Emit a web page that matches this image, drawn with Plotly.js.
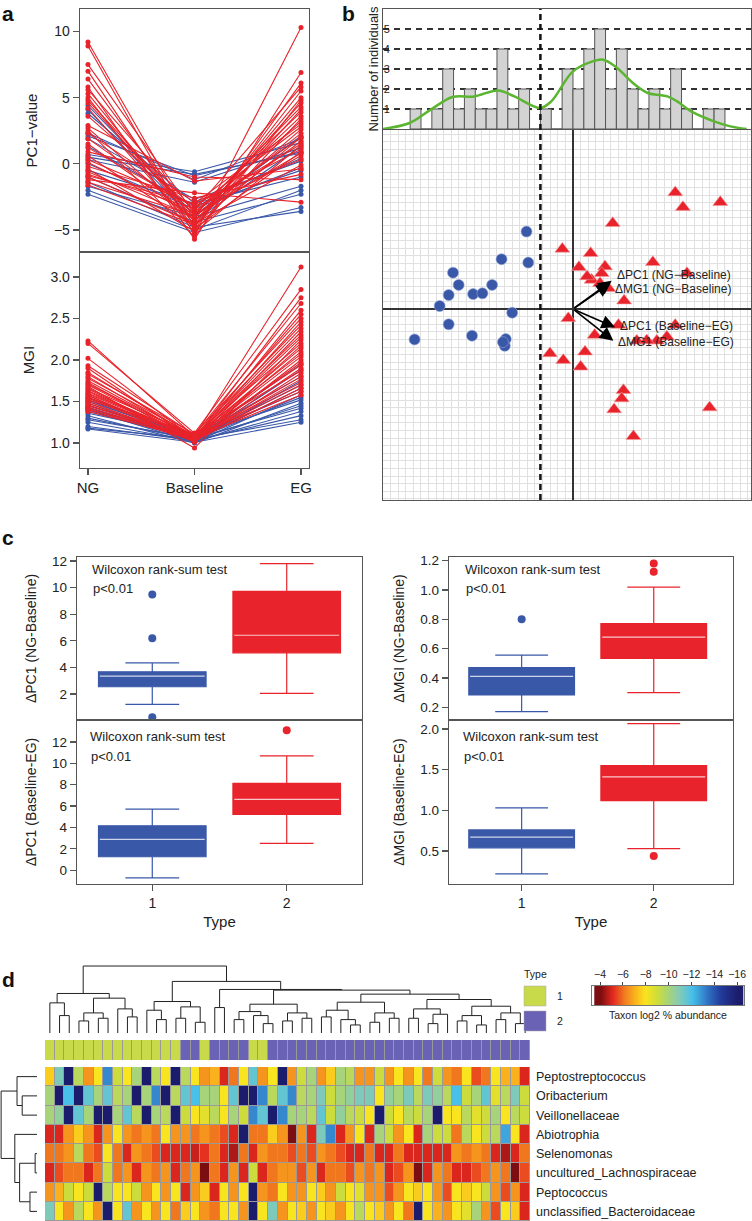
<!DOCTYPE html>
<html>
<head>
<meta charset="utf-8">
<script src="https://cdn.plot.ly/plotly-3.0.1.min.js"></script>
<style>
html,body{margin:0;padding:0;background:#fff;}
#plotDiv{width:752px;height:1221px;}
</style>
</head>
<body>
<div id="plotDiv"></div>
<script>
const W = 752, H = 1221;
// pixel -> paper helpers
function px(x){ return x / W; }
function py(y){ return 1 - y / H; }
function hdom(a, b){ return [px(a), px(b)]; }
function vdom(top, bottom){ return [py(bottom), py(top)]; }

const RED = '#e8232b', BLUE = '#3a58a8';

// ---------- panel a : trajectories of every individual ----------
const stageNames = ['NG', 'Baseline', 'EG'];
const indivType = [1,1,1,1,1,1,1,1,1,1,1,1,1,1,1,1,1,
                   2,2,2,2,2,2,2,2,2,2,2,2,2,2,2,2,2,2,2,2,2,2,2,2,2,2,2,2,2,2,2,2,2];
const ngPC1 = [4.4,4.1,3.8,2.3,2.1,1.9,1.3,0.7,0.5,0.3,0.0,-0.5,-1.0,-1.4,-1.7,-2.0,-2.3,
  9.2,8.9,7.5,7.0,6.4,5.8,5.6,5.3,5.0,4.8,4.6,4.2,3.6,2.9,2.7,2.5,2.3,1.9,1.5,1.2,0.9,0.6,0.3,0.1,-0.2,-0.4,-0.6,-0.8,-1.0,-1.2,-1.4,-1.6,-0.9];
const basePC1 = [-3.9,-4.3,-3.0,-1.2,-0.9,-2.7,-3.2,-0.6,-0.8,-1.4,-3.4,-3.0,-4.4,-4.8,-4.0,-5.0,-5.2,
  -4.8,-5.4,-3.8,-5.0,-4.4,-5.7,-3.6,-4.6,-5.2,-3.9,-4.1,-4.9,-3.5,-1.3,-4.3,-5.5,-2.9,-3.7,-4.2,-3.3,-1.0,-4.7,-3.1,-3.8,-2.6,-5.1,-4.0,-3.4,-4.5,-2.2,-3.9,-4.6,-3.0];
const egPC1 = [2.1,1.3,0.4,1.9,0.9,0.2,-0.5,1.6,0.8,1.2,-0.3,-1.0,-2.3,-3.6,-1.7,-2.0,-3.3,
  5.5,10.3,3.2,6.1,4.6,6.9,2.0,5.0,1.4,4.3,3.6,0.9,5.8,-0.4,2.6,4.8,0.3,3.9,1.7,2.8,-1.2,4.1,1.1,0.6,-0.8,3.4,2.3,1.5,-0.1,-2.9,0.8,2.0,3.0];
const ngMGI = [1.55,1.52,1.50,1.48,1.45,1.43,1.42,1.40,1.38,1.36,1.33,1.30,1.28,1.25,1.20,1.18,1.17,
  2.23,2.20,2.02,1.93,1.90,1.85,1.83,1.80,1.78,1.75,1.73,1.71,1.70,1.68,1.66,1.65,1.63,1.62,1.60,1.59,1.58,1.57,1.55,1.54,1.52,1.50,1.48,1.46,1.45,1.43,1.41,1.40,1.38];
const baseMGI = [1.05,1.04,1.08,1.02,1.06,1.03,1.07,1.01,1.05,1.09,1.00,1.04,1.06,1.02,1.03,1.05,1.01,
  1.08,1.12,1.05,1.10,1.03,1.07,1.11,1.04,1.09,1.06,1.02,1.08,1.05,0.94,1.10,1.03,1.07,1.04,1.09,1.06,1.01,1.05,1.08,1.03,1.11,1.02,1.06,1.04,1.07,1.05,1.03,1.09,1.06];
const egMGI = [1.95,1.88,1.80,1.75,1.70,1.66,1.62,1.58,1.55,1.52,1.48,1.45,1.42,1.38,1.33,1.28,1.25,
  3.12,2.85,2.75,2.68,2.60,2.55,2.50,2.46,2.42,2.38,2.34,2.30,2.27,2.24,2.20,2.17,2.14,2.10,2.07,2.04,2.00,1.97,1.94,1.90,1.87,1.84,1.80,1.77,1.73,1.70,1.66,1.62,1.58];

// ---------- panel b : histogram + biplot ----------
const histFirstEdge = -15, histBinWidth = 1;
const histCounts = [1,0,1,3,1,2,1,1,4,1,2,0,1,0,3,2,4,5,2,4,2,1,2,1,3,1,0,1,1];
const densX = [-17.5,-15.05,-13.1,-11.1,-9.1,-6.9,-5.4,-3.05,-2.0,0,1.8,2.7,3.9,5.7,6.9,8.7,9.6,10.9,13.0,14.5,16.0];
const densY = [0,0.3,0.97,1.6,1.63,1.93,1.63,1.05,1.38,2.88,3.38,3.47,3.13,2.22,1.8,1.63,1.38,0.88,0.38,0.13,0];
const splitX = -3;
const blueX = [-4.28,-6.58,-4.12,-11.05,-10.53,-11.45,-9.2,-8.34,-7.45,-12.28,-5.6,-11.45,-14.59,-9.3,-6.19,-6.28,-6.45];
const blueY = [7.14,4.59,4.28,3.35,2.22,1.29,1.38,1.45,2.22,0.28,-0.34,-1.41,-2.8,-2.46,-2.77,-3.39,-3.05];
const redX = [9.42,10.13,13.57,3.66,-0.98,1.63,7.36,0.55,2.95,2.65,10.5,1.72,2.49,3.26,4.71,-0.43,4.19,9.42,2.0,5.88,7.73,8.65,-2.12,-0.89,1.11,0.71,4.65,4.49,3.79,12.59,5.57,6.8,1.3];
const redY = [10.74,9.39,9.85,7.91,5.54,5.14,4.31,3.85,3.91,3.3,3.3,2.68,2.37,1.91,0.77,-0.86,-1.48,-1.48,-2.4,-2.93,-2.93,-2.56,-4.09,-4.71,-3.94,-5.33,-7.48,-8.25,-9.26,-9.08,-11.73,-2.9,3.0];
const arrowNames = ['ΔPC1 (NG−Baseline)','ΔMG1 (NG−Baseline)','ΔPC1 (Baseline−EG)','ΔMG1 (Baseline−EG)'];
const arrowX = [3.57,3.42,3.88,3.72];
const arrowY = [2.61,2.37,-1.69,-2.93];

// ---------- panel c : box plots, [lower whisker, Q1, median, Q3, upper whisker] ----------
const pcNgBlue = [1.23,2.55,3.35,3.67,4.35], pcNgRed = [2.05,5.1,6.42,9.72,11.8];
const pcNgBlueOut = [9.49,6.2,0.25], pcNgRedOut = [];
const pcEgBlue = [-0.72,1.25,2.88,4.15,5.72], pcEgRed = [2.5,5.22,6.62,8.12,10.7];
const pcEgBlueOut = [], pcEgRedOut = [13.1];
const mgNgBlue = [0.17,0.284,0.41,0.47,0.555], mgNgRed = [0.30,0.534,0.678,0.77,1.02];
const mgNgBlueOut = [0.8], mgNgRedOut = [1.18,1.125];
const mgEgBlue = [0.22,0.54,0.67,0.76,1.03], mgEgRed = [0.53,1.12,1.41,1.55,2.065];
const mgEgBlueOut = [], mgEgRedOut = [0.44];

// ---------- panel d : heatmap ----------
const taxa = ['Peptostreptococcus','Oribacterium','Veillonellaceae','Abiotrophia','Selenomonas',
              'uncultured_Lachnospiraceae','Peptococcus','unclassified_Bacteroidaceae'];
const colType = [1,1,1,1,1,1,1,1,1,1,1,1,1,1,2,2,1,2,2,2,2,1,1,
                 2,2,2,2,2,2,2,2,2,2,2,2,2,2,2,2,2,2,2,2,2,2,2,2,2,2,2];
const heatRows = [
  [-7.5,-11,-16,-9.5,-6.5,-8,-13,-9,-8,-10,-16,-9.5,-8,-16,-9.5,-8,-6.5,-7,-5,-6,-8,-11.5,-6.5,-8,-16,-6.5,-9,-10,-6.5,-7.5,-10,-9.5,-6.5,-6.5,-9,-6.5,-8,-6.5,-8,-6,-9,-6.5,-6,-8,-5.5,-6,-8,-7,-7,-5],
  [-10,-16,-12,-16,-11.5,-10,-11.5,-9.5,-10,-16,-10,-13,-16,-9.5,-11.5,-12,-10,-10,-8,-11.5,-16,-16,-13,-9.5,-11.5,-13,-9.5,-10,-11,-9,-10,-10.5,-11,-11,-8,-10.5,-10,-11,-9.5,-11,-10.5,-9.5,-12,-9,-10,-11.5,-8.5,-9.5,-11,-9],
  [-10,-10.5,-16,-11.5,-10,-16,-16,-10,-11.5,-9.5,-16,-10,-9.5,-16,-9,-8,-8.5,-9.5,-8,-10,-9,-13,-11.5,-16,-13,-10,-10,-9.5,-11.5,-9,-10.5,-9.5,-9,-8,-16,-9,-8,-9.5,-9,-10,-16,-8,-8,-9.5,-8.5,-9,-10,-8,-9.5,-9],
  [-5,-5,-6.5,-7.5,-6.5,-5,-6.5,-8,-6.5,-6,-6.5,-6,-8,-6.5,-6.5,-6,-6.5,-6,-5.5,-5,-16,-6,-6,-7.5,-6.5,-4,-6.5,-5,-11,-13,-5,-6.5,-8,-5,-10,-9,-6.5,-8,-5,-10,-9,-9,-6,-9.5,-8,-9,-9.5,-12.5,-8,-5],
  [-6,-6,-6.5,-9.5,-6,-5.5,-8,-6,-5,-6.5,-6,-5.5,-5,-5,-5,-4.8,-5.2,-6,-5,-4.5,-6,-5,-6.5,-6,-6,-5.5,-6,-5.5,-6.5,-6,-5.5,-5,-5,-6,-5,-5,-6,-5,-5,-5,-5,-5,-6.5,-6,-6.5,-6,-5,-4.5,-5,-6],
  [-5,-5.5,-6,-6,-5,-6,-9,-6,-6.5,-5,-6.5,-6,-6.5,-5,-6,-6.5,-4,-6,-5,-6.5,-5,-9,-5,-6,-6.5,-6.5,-5.5,-6.5,-5,-6,-6,-5.5,-6.5,-6,-6.5,-5,-5.5,-6.5,-3.8,-5,-6.5,-6,-5,-5,-5.5,-6,-6.5,-6,-4,-5.5],
  [-6.5,-7,-9,-8,-9,-16,-9.5,-8,-8,-9,-6.5,-8,-6.5,-8,-5,-6.5,-7.5,-5,-8,-6.5,-8,-16,-6.5,-6,-8,-6.5,-6.5,-8,-7.5,-6.5,-9,-8,-8.5,-6.5,-6.5,-5.5,-6.5,-8,-7.5,-8,-6.5,-5.5,-8,-7.5,-8,-9,-6.5,-5.5,-6.5,-5],
  [-11,-8,-6.5,-9.5,-8,-6.5,-16,-8,-11.5,-6.5,-8,-6.5,-8,-6,-7.5,-8,-6.5,-6,-8,-8,-6.5,-16,-8,-11,-6.5,-8,-7.5,-6.5,-8,-7.5,-6.5,-8,-9.5,-8,-7.5,-6.5,-8,-6,-16,-8,-7,-6.5,-8,-8.5,-10,-6.5,-5.5,-8,-7.5,-5]
];
// column dendrogram: [height, left, right], leaves are column indices
const colTree = [10,
  [5.9,
    [4.5, 0, [2.6, 1, 2]],
    [5.2, [3.0, [1.8, 3, 4], [2.2, 5, 6]], [3.6, 7, [2.4, 8, 9]]]],
  [7.7,
    [4.7, [3.4, 10, [2.0, 11, 12]], [3.9, [2.2, 13, 14], [1.6, 15, 16]]],
    [6.5,
      [3.8, 17, 18],
      [6.4,
        [4.3, [3.2, [2.0, 19, 20], [2.6, 21, [1.4, 22, 23]]], [3.0, [1.8, 24, 25], [2.2, 26, 27]]],
        [5.8,
          [4.6, [3.4, [2.4, 28, 29], [2.0, 30, [1.2, 31, 32]]], [3.0, [1.6, 33, 34], [2.2, 35, 36]]],
          [5.0, [3.6, [2.2, 37, 38], [2.8, [1.4, 39, 40], 41]],
                [4.0, [2.6, [1.8, 42, 43], [1.2, 44, 45]], [3.0, [2.0, 46, 47], [1.4, 48, 49]]]]]]]]];
const rowTree = [9.7, [5.4, 0, [4.0, 1, 2]], [6.0, 3, [4.7, [0.5, 4, 5], [1.9, 6, 7]]]];
const legendLevels = [-16,-15,-14,-13,-12,-11,-10,-9,-8,-7,-6,-5,-4];
const legendTicks = [-4,-6,-8,-10,-12,-14,-16];

const abundScale = [[0,'#1c1c6c'],[0.12,'#223c9c'],[0.22,'#2f72c4'],[0.33,'#46c0ea'],[0.43,'#86cbb4'],
  [0.52,'#b0d66a'],[0.59,'#cfdd38'],[0.67,'#fbe41f'],[0.75,'#f9b21d'],[0.83,'#f27a1f'],[0.91,'#e3281f'],[1,'#7c0d10']];

// ---------- traces ----------
const data = [];

function pathTrace(vals0, vals1, vals2, type, color, xa, ya){
  const xs = [], ys = [];
  for (let i = 0; i < indivType.length; i++){
    if (indivType[i] !== type) continue;
    xs.push(0, 1, 2, null);
    ys.push(vals0[i], vals1[i], vals2[i], null);
  }
  return {type:'scatter', mode:'lines+markers', x:xs, y:ys, xaxis:xa, yaxis:ya,
          line:{color:color, width:1.1}, marker:{color:color, size:5}, hoverinfo:'skip'};
}
data.push(pathTrace(ngPC1, basePC1, egPC1, 1, BLUE, 'x', 'y'));
data.push(pathTrace(ngPC1, basePC1, egPC1, 2, RED, 'x', 'y'));
data.push(pathTrace(ngMGI, baseMGI, egMGI, 1, BLUE, 'x2', 'y2'));
data.push(pathTrace(ngMGI, baseMGI, egMGI, 2, RED, 'x2', 'y2'));

// histogram
data.push({type:'bar', x:histCounts.map((c, i) => histFirstEdge + histBinWidth * (i + 0.5)), y:histCounts,
  width:histBinWidth, xaxis:'x3', yaxis:'y3', marker:{color:'#d3d3d3', line:{color:'#555', width:1}}, hoverinfo:'skip'});
data.push({type:'scatter', mode:'lines', x:densX, y:densY, xaxis:'x3', yaxis:'y3',
  line:{color:'#5cb531', width:2.5, shape:'spline'}, hoverinfo:'skip'});
// biplot points
data.push({type:'scatter', mode:'markers', x:blueX, y:blueY, xaxis:'x4', yaxis:'y4',
  marker:{symbol:'circle', size:11, color:BLUE, line:{color:'#8fa2d6', width:0.6}}, hoverinfo:'skip'});
data.push({type:'scatter', mode:'markers', x:redX, y:redY, xaxis:'x4', yaxis:'y4',
  marker:{symbol:'triangle-up', size:13, color:RED, line:{color:'#f39a9a', width:0.6}}, hoverinfo:'skip'});

// box plots
function boxTraces(pos, s, out, color, xa, ya){
  const t = [];
  t.push({type:'box', x:[pos], lowerfence:[s[0]], q1:[s[1]], median:[s[2]], q3:[s[3]], upperfence:[s[4]],
    width:0.8, whiskerwidth:0.5, fillcolor:color, line:{color:color, width:1.2},
    boxpoints:false, xaxis:xa, yaxis:ya, hoverinfo:'skip'});
  t.push({type:'scatter', mode:'lines', x:[pos - 0.39, pos + 0.39], y:[s[2], s[2]], xaxis:xa, yaxis:ya,
    line:{color:'rgba(255,255,255,0.75)', width:1.2}, hoverinfo:'skip'});
  if (out.length) t.push({type:'scatter', mode:'markers', x:out.map(() => pos), y:out, xaxis:xa, yaxis:ya,
    marker:{color:color, size:8}, hoverinfo:'skip'});
  return t;
}
data.push(...boxTraces(1, pcNgBlue, pcNgBlueOut, BLUE, 'x5', 'y5'));
data.push(...boxTraces(2, pcNgRed, pcNgRedOut, RED, 'x5', 'y5'));
data.push(...boxTraces(1, pcEgBlue, pcEgBlueOut, BLUE, 'x6', 'y6'));
data.push(...boxTraces(2, pcEgRed, pcEgRedOut, RED, 'x6', 'y6'));
data.push(...boxTraces(1, mgNgBlue, mgNgBlueOut, BLUE, 'x7', 'y7'));
data.push(...boxTraces(2, mgNgRed, mgNgRedOut, RED, 'x7', 'y7'));
data.push(...boxTraces(1, mgEgBlue, mgEgBlueOut, BLUE, 'x8', 'y8'));
data.push(...boxTraces(2, mgEgRed, mgEgRedOut, RED, 'x8', 'y8'));

// dendrograms
function dendroLines(tree, horizontal){
  const a = [], b = [];
  function seg(p0, h0, p1, h1){ a.push(p0, p1, null); b.push(h0, h1, null); }
  function walk(node){
    if (typeof node === 'number') return {pos:node, h:0};
    const L = walk(node[1]), R = walk(node[2]), h = node[0];
    seg(L.pos, L.h, L.pos, h);
    seg(R.pos, R.h, R.pos, h);
    seg(L.pos, h, R.pos, h);
    return {pos:(L.pos + R.pos) / 2, h:h};
  }
  walk(tree);
  return horizontal ? {x:b, y:a} : {x:a, y:b};
}
const cd = dendroLines(colTree, false);
data.push({type:'scatter', mode:'lines', x:cd.x, y:cd.y, xaxis:'x9', yaxis:'y9',
  line:{color:'#222', width:1}, hoverinfo:'skip'});
const rd = dendroLines(rowTree, true);
data.push({type:'scatter', mode:'lines', x:rd.x, y:rd.y, xaxis:'x10', yaxis:'y11',
  line:{color:'#222', width:1}, hoverinfo:'skip'});

// type bar + heatmap
data.push({type:'heatmap', z:[colType], xaxis:'x9', yaxis:'y10', zmin:1, zmax:2, showscale:false, xgap:1,
  colorscale:[[0,'#c8da4a'],[0.5,'#c8da4a'],[0.5,'#6a62b5'],[1,'#6a62b5']], hoverinfo:'skip'});
data.push({type:'heatmap', z:heatRows, xaxis:'x9', yaxis:'y11', zmin:-16, zmax:-4, showscale:false,
  xgap:1, ygap:1, colorscale:abundScale, hoverinfo:'skip'});
// colour key
data.push({type:'heatmap', z:[legendLevels], x:legendLevels, xaxis:'x11', yaxis:'y12', zmin:-16, zmax:-4,
  zsmooth:'best', showscale:false, colorscale:abundScale, hoverinfo:'skip'});

// ---------- layout ----------
const FONT = 'Liberation Sans, Arial, Helvetica, sans-serif';
function frame(extra){
  return Object.assign({showline:true, mirror:true, linecolor:'#555', linewidth:1.3, zeroline:false,
    showgrid:false, ticks:'', showticklabels:false, fixedrange:true}, extra);
}
function tickAxis(extra){
  return frame(Object.assign({ticks:'outside', ticklen:6, tickcolor:'#555', tickwidth:1.2,
    showticklabels:true, tickfont:{size:14, color:'#222'}}, extra));
}
function hidden(extra){
  return Object.assign({visible:false, fixedrange:true}, extra);
}

const layout = {
  width:W, height:H, margin:{l:0, r:0, t:0, b:0}, showlegend:false,
  paper_bgcolor:'#fff', plot_bgcolor:'#fff',
  font:{family:FONT, color:'#222'},
  // panel a
  xaxis: frame({domain:hdom(80,309), anchor:'y', range:[-0.075,2.075]}),
  yaxis: tickAxis({domain:vdom(9,252), anchor:'x', range:[-6.67,11.7], tickvals:[-5,0,5,10],
    title:{text:'PC1−value', font:{size:15}, standoff:12}}),
  xaxis2: tickAxis({domain:hdom(80,309), anchor:'y2', range:[-0.075,2.075], tickvals:[0,1,2],
    ticktext:stageNames, tickfont:{size:15, color:'#222'}}),
  yaxis2: tickAxis({domain:vdom(252,468), anchor:'x2', range:[0.7,3.3], tickvals:[1,1.5,2,2.5,3],
    tickformat:'.1f', title:{text:'MGI', font:{size:15}, standoff:12}}),
  // panel b
  xaxis3: frame({domain:hdom(383,751), anchor:'y3', range:[-17.5,16.4]}),
  yaxis3: frame({domain:vdom(9,129), anchor:'x3', range:[0,6], tickvals:[1,2,3,4,5], showticklabels:true,
    ticklabelposition:'inside', ticksuffix:'-', tickfont:{size:11, color:'#222'},
    showgrid:true, gridcolor:'#333', gridwidth:1.2, griddash:'6px,5px',
    title:{text:'Number of individuals', font:{size:13}, standoff:2}}),
  xaxis4: frame({domain:hdom(383,751), anchor:'y4', range:[-17.5,16.4], showgrid:true, gridcolor:'#e0e0e0',
    gridwidth:1, dtick:0.7, tick0:0, zeroline:true, zerolinecolor:'#333', zerolinewidth:1.6}),
  yaxis4: frame({domain:vdom(130,500), anchor:'x4', range:[-17.6,16.5], showgrid:true, gridcolor:'#e0e0e0',
    gridwidth:1, dtick:0.7, tick0:0, zeroline:true, zerolinecolor:'#333', zerolinewidth:1.6}),
  // panel c
  xaxis5: frame({domain:hdom(77,362), anchor:'y5', range:[0.44,2.56]}),
  yaxis5: tickAxis({domain:vdom(557,720), anchor:'x5', range:[0.05,12.3], tickvals:[2,4,6,8,10,12],
    tickfont:{size:13.5, color:'#222'}, title:{text:'ΔPC1 (NG-Baseline)', font:{size:14}, standoff:12}}),
  xaxis6: tickAxis({domain:hdom(77,362), anchor:'y6', range:[0.44,2.56], tickvals:[1,2],
    tickfont:{size:14, color:'#222'}, title:{text:'Type', font:{size:15}, standoff:6}}),
  yaxis6: tickAxis({domain:vdom(720,884), anchor:'x6', range:[-1.3,14.06], tickvals:[0,2,4,6,8,10,12],
    tickfont:{size:13.5, color:'#222'}, title:{text:'ΔPC1 (Baseline-EG)', font:{size:14}, standoff:12}}),
  xaxis7: frame({domain:hdom(449,733), anchor:'y7', range:[0.45,2.6]}),
  yaxis7: tickAxis({domain:vdom(557,720), anchor:'x7', range:[0.113,1.225], tickvals:[0.2,0.4,0.6,0.8,1.0,1.2],
    tickformat:'.1f', tickfont:{size:13.5, color:'#222'}, title:{text:'ΔMGI (NG-Baseline)', font:{size:14}, standoff:12}}),
  xaxis8: tickAxis({domain:hdom(449,733), anchor:'y8', range:[0.45,2.6], tickvals:[1,2],
    tickfont:{size:14, color:'#222'}, title:{text:'Type', font:{size:15}, standoff:6}}),
  yaxis8: tickAxis({domain:vdom(720,884), anchor:'x8', range:[0.095,2.11], tickvals:[0.5,1.0,1.5,2.0],
    tickformat:'.1f', tickfont:{size:13.5, color:'#222'}, title:{text:'ΔMGI (Baseline-EG)', font:{size:14}, standoff:12}}),
  // panel d
  xaxis9: hidden({domain:hdom(45,530), anchor:'y11', range:[-0.5,49.5]}),
  yaxis9: hidden({domain:vdom(962,1033), anchor:'x9', range:[0,10.6]}),
  yaxis10: hidden({domain:vdom(1040,1060), anchor:'x9', range:[-0.5,0.5]}),
  yaxis11: {domain:vdom(1067,1221), anchor:'x9', range:[7.5,-0.5], side:'right', tickvals:[0,1,2,3,4,5,6,7],
    ticktext:taxa, ticks:'', showline:false, showgrid:false, zeroline:false, fixedrange:true,
    ticklabelstandoff:5, tickfont:{size:12.5, color:'#222'}},
  xaxis10: hidden({domain:hdom(0,37), anchor:'y11', range:[10,0]}),
  xaxis11: {domain:hdom(592,744), anchor:'y12', range:[-3.3,-16.6], side:'top', tickvals:legendTicks,
    ticks:'outside', ticklen:3, tickcolor:'#444', showline:true, mirror:true, linecolor:'#777', linewidth:1,
    showgrid:false, zeroline:false, fixedrange:true, tickfont:{size:10.5, color:'#222'}},
  yaxis12: {domain:vdom(986,1005), anchor:'x11', range:[-0.5,0.5], showline:true, mirror:true,
    linecolor:'#777', linewidth:1, showticklabels:false, ticks:'', showgrid:false, zeroline:false, fixedrange:true},
  shapes:[
    {type:'line', xref:'x4', yref:'paper', x0:splitX, x1:splitX, y0:py(500), y1:py(9),
     line:{color:'#111', width:2.5, dash:'6px,4px'}, layer:'above'},
    {type:'rect', xref:'x9', yref:'y11', x0:-0.5, x1:49.5, y0:-0.5, y1:7.5, fillcolor:'#9a9a9a',
     line:{width:0}, layer:'below'},
    {type:'rect', xref:'x9', yref:'y10', x0:-0.5, x1:49.5, y0:-0.5, y1:0.5, fillcolor:'#9a9a9a',
     line:{width:0}, layer:'below'},
    {type:'rect', xref:'paper', yref:'paper', x0:px(524), x1:px(546), y0:py(1006), y1:py(986),
     fillcolor:'#c8da4a', line:{color:'#aaa', width:0.5}},
    {type:'rect', xref:'paper', yref:'paper', x0:px(524), x1:px(546), y0:py(1031), y1:py(1011),
     fillcolor:'#6a62b5', line:{color:'#aaa', width:0.5}}
  ],
  annotations:[]
};

const ann = layout.annotations;
function label(text, x, y, opts){
  ann.push(Object.assign({text:text, x:px(x), y:py(y), xref:'paper', yref:'paper', showarrow:false,
    xanchor:'left', yanchor:'middle', font:{size:13, color:'#222'}}, opts));
}
// panel letters
label('<b>a</b>', 0, 13, {font:{size:21, color:'#111'}});
label('<b>b</b>', 340, 13, {font:{size:21, color:'#111'}});
label('<b>c</b>', 0, 537, {font:{size:21, color:'#111'}});
label('<b>d</b>', 0, 979, {font:{size:21, color:'#111'}});
// wilcoxon notes
[[90,569],[88,736],[463,569],[461,736]].forEach(p => {
  label('Wilcoxon rank-sum test', p[0], p[1]);
  label('p<0.01', p[0] + 1, p[1] + 20);
});
// biplot arrows and labels
const labelShift = [6, -6, 1, -1];
arrowNames.forEach((name, i) => {
  ann.push({xref:'x4', yref:'y4', axref:'x4', ayref:'y4', x:arrowX[i], y:arrowY[i], ax:0, ay:0,
    text:'', showarrow:true, arrowhead:2, arrowsize:1.7, arrowwidth:1.6, arrowcolor:'#000'});
  ann.push({xref:'x4', yref:'y4', x:arrowX[i], y:arrowY[i], text:name, showarrow:false,
    xanchor:'left', yanchor:'middle', xshift:3, yshift:labelShift[i], font:{size:12, color:'#222'}});
});
// heatmap keys
label('Type', 535, 974, {xanchor:'center', font:{size:10.5, color:'#222'}});
label('1', 555, 996, {font:{size:10.5, color:'#222'}});
label('2', 555, 1021, {font:{size:10.5, color:'#222'}});
label('Taxon log2 % abundance', 668, 1015, {xanchor:'center', font:{size:10.5, color:'#222'}});

Plotly.newPlot('plotDiv', data, layout, {displayModeBar:false, staticPlot:true});
</script>
</body>
</html>
